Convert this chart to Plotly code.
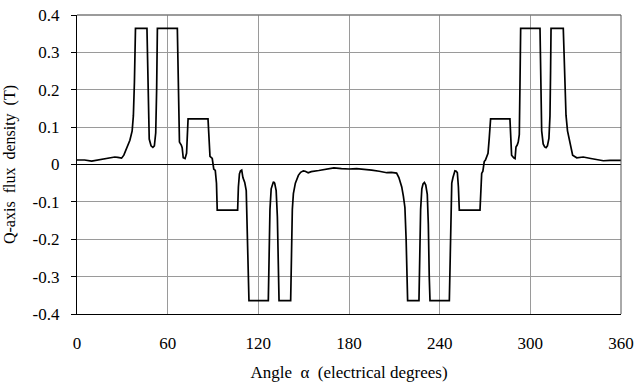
import plotly.graph_objects as go

# Q-axis flux density versus electrical angle
angle_deg = [
    0, 5, 9.7, 15, 20, 25, 27, 29.5, 31, 33, 35, 36.5, 37.3, 38, 38.4, 38.7,
    46.3, 46.7, 47.2, 47.8, 49, 50.2, 51.2, 52.1, 52.7, 53.2,
    66.4, 66.9, 67.3, 67.8, 69, 69.6, 70.3, 71.5, 72.5, 73.0, 73.5,
    86.7, 87.2, 88, 89.5, 90, 90.5, 91.5, 92.3, 92.8,
    106.3, 106.8, 107.5, 108.2, 109, 109.8, 111, 112, 112.8, 113.3, 113.8,
    126.6, 127.1, 127.7, 128.5, 129.3, 130, 130.8, 131.8, 132.6, 133.2, 133.7,
    141.4, 141.9, 142.5, 143.2, 144.5, 146.5, 148, 149.8, 151, 153, 155,
    160, 165, 170, 175, 180, 185, 190, 195, 200, 205, 208, 211.5, 213,
    214.9, 216, 217, 217.8, 218.3, 218.8,
    226.3, 226.8, 227.4, 228.2, 229, 229.9, 230.8, 231.8, 232.5, 233.1, 233.6,
    246.4, 246.9, 247.4, 248, 248.8, 249.5, 250.1, 251, 251.7, 252.4, 253,
    266.7, 267.2, 267.8, 268.6, 269.5, 270.3, 271.1, 272, 272.8, 273.7,
    286.5, 287, 287.6, 289, 289.9, 290.5, 291.3, 292, 292.7, 293.1, 293.6,
    306.4, 306.9, 307.5, 308.5, 309.5, 310.4, 311.3, 312.3, 313, 313.4, 313.7,
    321.8, 322.2, 322.7, 323.6, 324.6, 325.8, 327, 328, 330.7, 333, 335,
    340, 345, 348.3, 352.7, 356, 360,
]

flux_T = [
    0.012, 0.012, 0.009, 0.013, 0.016, 0.02, 0.019, 0.017, 0.025, 0.043, 0.065, 0.09, 0.13, 0.22, 0.30, 0.364,
    0.364, 0.25, 0.12, 0.068, 0.05, 0.046, 0.05, 0.085, 0.2, 0.364,
    0.364, 0.2, 0.08, 0.06, 0.052, 0.045, 0.018, 0.016, 0.03, 0.08, 0.122,
    0.122, 0.06, 0.022, 0.016, 0.001, -0.012, -0.016, -0.05, -0.122,
    -0.122, -0.06, -0.025, -0.017, -0.015, -0.035, -0.048, -0.07, -0.2, -0.3, -0.364,
    -0.364, -0.25, -0.12, -0.065, -0.05, -0.046, -0.05, -0.07, -0.14, -0.3, -0.364,
    -0.364, -0.25, -0.12, -0.078, -0.05, -0.029, -0.021, -0.017, -0.018, -0.022, -0.019,
    -0.016, -0.012, -0.009, -0.011, -0.012, -0.011, -0.012, -0.015, -0.018, -0.022, -0.021, -0.023, -0.035,
    -0.06, -0.085, -0.115, -0.2, -0.3, -0.364,
    -0.364, -0.25, -0.12, -0.065, -0.052, -0.048, -0.055, -0.08, -0.16, -0.3, -0.364,
    -0.364, -0.25, -0.1, -0.05, -0.035, -0.022, -0.017, -0.018, -0.022, -0.06, -0.122,
    -0.122, -0.06, -0.024, -0.018, 0.008, 0.012, 0.02, 0.03, 0.07, 0.122,
    0.122, 0.06, 0.025, 0.018, 0.016, 0.047, 0.052, 0.06, 0.08, 0.2, 0.364,
    0.364, 0.2, 0.09, 0.055, 0.047, 0.045, 0.05, 0.07, 0.13, 0.25, 0.364,
    0.364, 0.3, 0.22, 0.132, 0.09, 0.065, 0.04, 0.025, 0.018, 0.02, 0.02,
    0.016, 0.013, 0.01, 0.011, 0.011, 0.011,
]

x_ticks = [0, 60, 120, 180, 240, 300, 360]
y_ticks = [-0.4, -0.3, -0.2, -0.1, 0, 0.1, 0.2, 0.3, 0.4]
y_tick_text = ["-0.4", "-0.3", "-0.2", "-0.1", "0", "0.1", "0.2", "0.3", "0.4"]

serif = "Liberation Serif"
nb = "\u00a0"

fig = go.Figure()
fig.add_trace(go.Scatter(
    x=angle_deg, y=flux_T, mode="lines",
    line=dict(color="black", width=1.7),
    showlegend=False, hoverinfo="skip",
))

fig.update_layout(
    width=634, height=383,
    margin=dict(l=77, r=13, t=15, b=69),
    paper_bgcolor="white", plot_bgcolor="white",
    font=dict(family=serif, size=16, color="black"),
    xaxis=dict(
        range=[0, 360], tickvals=x_ticks, ticks="",
        ticklabelstandoff=13, automargin=False,
        showgrid=True, gridcolor="#9a9a9a", gridwidth=1,
        zeroline=False, showline=True, linecolor="black", linewidth=1.2,
        title=dict(text=f"Angle{nb} α{nb} (electrical degrees)", standoff=14,
                   font=dict(family=serif, size=17)),
        tickfont=dict(family=serif, size=17),
        fixedrange=True,
    ),
    yaxis=dict(
        range=[-0.4, 0.4], tickvals=y_ticks, ticktext=y_tick_text,
        ticks="outside", ticklen=5, tickcolor="black", tickwidth=1,
        ticklabelstandoff=8, automargin=False,
        showgrid=True, gridcolor="#9a9a9a", gridwidth=1,
        zeroline=True, zerolinecolor="black", zerolinewidth=1.2,
        showline=True, linecolor="black", linewidth=1.2,
        title=dict(text=f"Q-axis{nb} flux{nb} density{nb} (T)", standoff=12,
                   font=dict(family=serif, size=16)),
        tickfont=dict(family=serif, size=17),
        fixedrange=True,
    ),
)

# top and right frame edges in grey
fig.add_shape(type="line", xref="paper", yref="paper", x0=0, x1=1, y0=1, y1=1,
              line=dict(color="#7a7a7a", width=1.5))
fig.add_shape(type="line", xref="paper", yref="paper", x0=1, x1=1, y0=0, y1=1,
              line=dict(color="#555555", width=1))

fig.write_html("out.html")
